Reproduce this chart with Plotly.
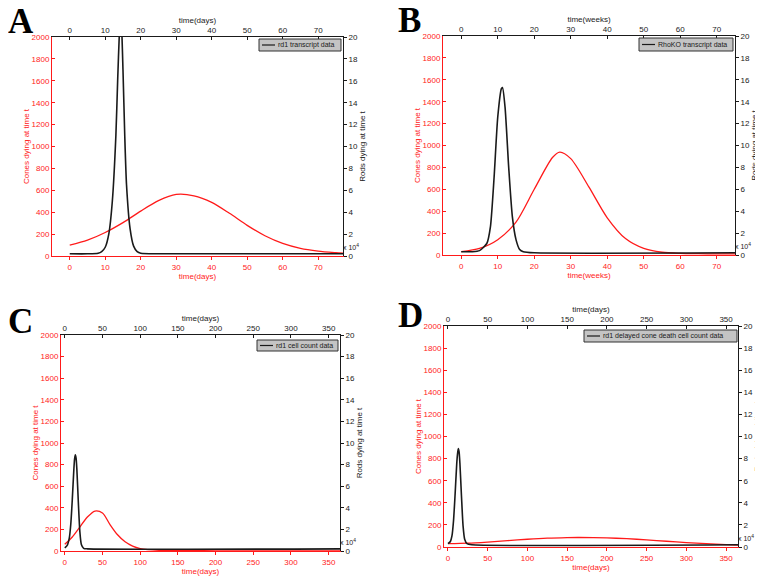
import plotly.graph_objects as go

# page is shown with the browser's default 8px body margin, so the figure is
# sized to fit the window and every position is given in window pixels
OFF = 8
W, H = 763 - OFF, 576 - OFF
RED = "#ff1a1a"
BLK = "#1a1a1a"
FONT = "Liberation Sans"

# ---------------- data ----------------
# Panel A: rd1 transcript data (time in days)
a_cone_t = [0, 5, 10, 15, 20, 25, 30, 35, 40, 45, 50, 55, 60, 65, 70, 75, 77]
a_cone_v = [100, 145, 215, 305, 410, 505, 562, 550, 490, 390, 280, 185, 115, 70, 45, 30, 25]
a_rod_t = [0, 5, 8, 9, 10, 11, 12, 13, 13.5, 14, 14.3, 14.6, 15, 15.5, 16, 17, 18, 19, 20, 25, 77]
a_rod_v = [0.2, 0.2, 0.25, 0.4, 0.8, 2, 5, 11, 16, 20.5, 22, 21, 17, 11, 6.5, 2.5, 0.9, 0.4, 0.25, 0.2, 0.2]

# Panel B: RhoKO transcript data (time in weeks)
b_cone_t = [0, 5, 10, 15, 20, 25, 27, 30, 35, 40, 45, 50, 55, 60, 65, 70, 75]
b_cone_v = [30, 60, 140, 300, 600, 890, 940, 880, 620, 340, 150, 60, 25, 15, 12, 10, 10]
b_rod_t = [0, 3, 5, 7, 8, 9, 10, 11, 11.3, 12, 13, 14, 15, 16, 17, 20, 75]
b_rod_v = [0.3, 0.3, 0.4, 1.05, 2.6, 7.1, 12.6, 15.2, 15.3, 13.5, 8.0, 3.5, 1.4, 0.5, 0.3, 0.2, 0.2]

# Panel C: rd1 cell count data (time in days)
c_cone_t = [0, 10, 20, 30, 40, 50, 60, 70, 80, 90, 100, 110, 125, 150, 200, 365]
c_cone_v = [62, 130, 222, 315, 370, 352, 245, 150, 85, 45, 22, 12, 6, 4, 2, 1]
c_rod_t = [0, 3, 6, 8, 10, 12, 13, 14, 15, 16, 18, 20, 22, 25, 30, 365]
c_rod_v = [0.3, 0.5, 1.2, 2.5, 4.8, 7.5, 8.5, 8.9, 8.6, 7.6, 4.5, 1.8, 0.6, 0.25, 0.2, 0.2]

# Panel D: rd1 delayed cone death cell count data (time in days)
d_cone_t = [0, 25, 50, 75, 100, 125, 150, 165, 200, 225, 250, 275, 300, 325, 350, 365]
d_cone_v = [30, 35, 45, 57, 70, 80, 85, 86, 82, 75, 65, 52, 40, 30, 22, 18]
d_rod_t = [0, 3, 5, 7, 9, 11, 12, 13, 14, 15, 17, 19, 21, 24, 30, 365]
d_rod_v = [0.3, 0.5, 1.0, 2.4, 4.8, 7.5, 8.4, 8.9, 8.6, 7.6, 4.6, 1.9, 0.7, 0.3, 0.2, 0.2]

cone_ticks = list(range(0, 2001, 200))
rod_ticks = list(range(0, 21, 2))

panels = [
    dict(label="A", unit="time(days)", cone=(a_cone_t, a_cone_v), rod=(a_rod_t, a_rod_v),
         xr=[-5, 77], dt=10, legend="rd1 transcript data",
         box=(52, 343, 37, 256), lab=(8, 8), leg=(259, 341, 39, 51)),
    dict(label="B", unit="time(weeks)", cone=(b_cone_t, b_cone_v), rod=(b_rod_t, b_rod_v),
         xr=[-5, 75], dt=10, legend="RhoKO transcript data",
         box=(443, 735, 36, 255), lab=(398, 7), leg=(639, 733, 38, 51)),
    dict(label="C", unit="time(days)", cone=(c_cone_t, c_cone_v), rod=(c_rod_t, c_rod_v),
         xr=[-5, 365], dt=50, legend="rd1 cell count data",
         box=(61, 340, 335, 551), lab=(8, 308), leg=(257, 338, 340, 351)),
    dict(label="D", unit="time(days)", cone=(d_cone_t, d_cone_v), rod=(d_rod_t, d_rod_v),
         xr=[-5, 365], dt=50, legend="rd1 delayed cone death cell count data",
         box=(444, 738, 326, 547), lab=(398, 302), leg=(584, 737, 330, 342)),
]


def px(x):
    return (x - OFF) / W


def py(y):
    return 1 - (y - OFF) / H


fig = go.Figure()
layout = dict(
    width=W, height=H, margin=dict(l=0, r=0, t=0, b=0, autoexpand=False),
    paper_bgcolor="white", plot_bgcolor="white", showlegend=False,
    font=dict(family=FONT, size=8),
)
shapes = []
annotations = []

for k, p in enumerate(panels):
    i1, i2 = 2 * k + 1, 2 * k + 2
    L, R, T, B = p["box"]
    xd = [px(L), px(R)]
    yd = [py(B), py(T)]
    s1 = "" if i1 == 1 else str(i1)
    s2 = str(i2)

    fig.add_trace(go.Scatter(x=p["cone"][0], y=p["cone"][1], mode="lines",
                             line=dict(color=RED, width=1.3, shape="spline", smoothing=0.8),
                             xaxis="x" + s1, yaxis="y" + s1, hoverinfo="skip"))
    fig.add_trace(go.Scatter(x=p["rod"][0], y=p["rod"][1], mode="lines",
                             line=dict(color=BLK, width=1.6, shape="spline", smoothing=0.6),
                             xaxis="x" + s2, yaxis="y" + s2, hoverinfo="skip"))

    xt = list(range(0, int(p["xr"][1]) + 1, p["dt"]))
    common = dict(ticklen=3, tickwidth=1, showgrid=False, zeroline=False,
                  showline=True, linewidth=1, automargin=False)

    layout["xaxis" + s1] = dict(common, ticks="outside", domain=xd, anchor="y" + s1, range=p["xr"],
                                tickvals=xt, linecolor=RED, tickcolor=RED,
                                tickfont=dict(size=8, family=FONT, color=RED),
                                title=dict(text=p["unit"], font=dict(size=8, color=RED, family=FONT),
                                           standoff=0))
    layout["xaxis" + s2] = dict(common, ticks="inside", domain=xd, anchor="y" + s1,
                                overlaying="x" + s1,
                                side="top", range=p["xr"], tickvals=xt,
                                linecolor=BLK, tickcolor=BLK,
                                tickfont=dict(size=8, family=FONT, color=BLK),
                                title=dict(text=p["unit"], font=dict(size=8, color=BLK, family=FONT),
                                           standoff=0))
    layout["yaxis" + s1] = dict(common, ticks="inside", domain=yd, anchor="x" + s1, range=[0, 2000],
                                tickvals=cone_ticks, linecolor=RED, tickcolor=RED,
                                tickfont=dict(size=8, family=FONT, color=RED),
                                title=dict(text="Cones dying at time t",
                                           font=dict(size=8, color=RED, family=FONT), standoff=0))
    layout["yaxis" + s2] = dict(common, ticks="outside", domain=yd, anchor="x" + s1,
                                overlaying="y" + s1,
                                side="right", range=[0, 20], tickvals=rod_ticks,
                                linecolor=BLK, tickcolor=BLK,
                                tickfont=dict(size=8, family=FONT, color=BLK),
                                title=dict(text="Rods dying at time t",
                                           font=dict(size=8, color=BLK, family=FONT), standoff=2))

    # panel letter
    annotations.append(dict(text="<b>%s</b>" % p["label"], xref="paper", yref="paper",
                            x=px(p["lab"][0] - 2), y=py(p["lab"][1] - 8),
                            xanchor="left", yanchor="top", showarrow=False,
                            font=dict(family="Liberation Serif", size=35, color="black")))
    # x10^4 multiplier
    annotations.append(dict(text="x 10<sup>4</sup>", xref="paper", yref="paper",
                            x=px(R - 2), y=py(B - 3), xanchor="left", yanchor="bottom",
                            showarrow=False, font=dict(family=FONT, size=7, color=BLK)))
    # legend box
    lx0, lx1, ly0, ly1 = p["leg"]
    shapes.append(dict(type="rect", xref="paper", yref="paper",
                       x0=px(lx0), x1=px(lx1), y0=py(ly1), y1=py(ly0),
                       fillcolor="#c4c4c4", line=dict(color="#333333", width=1), layer="above"))
    ym = (ly0 + ly1) / 2
    shapes.append(dict(type="line", xref="paper", yref="paper",
                       x0=px(lx0 + 3), x1=px(lx0 + 16), y0=py(ym), y1=py(ym),
                       line=dict(color=BLK, width=1.2), layer="above"))
    annotations.append(dict(text=p["legend"], xref="paper", yref="paper",
                            x=px(lx0 + 17), y=py(ym), xanchor="left", yanchor="middle",
                            showarrow=False, font=dict(family=FONT, size=7, color=BLK)))

layout["shapes"] = shapes
layout["annotations"] = annotations
fig.update_layout(**layout)
fig.write_html("out.html")
